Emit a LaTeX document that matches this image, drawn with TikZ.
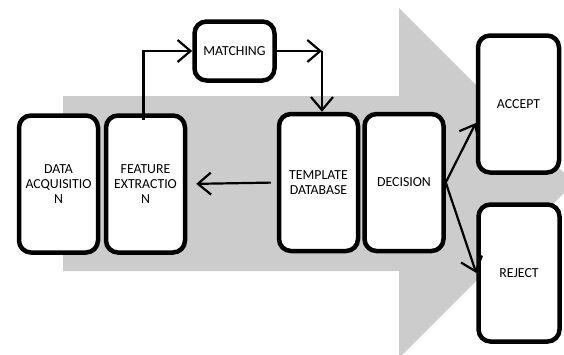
\documentclass[tikz,border=0pt]{standalone}
\usepackage{fontspec}
\setmainfont{Carlito}
\usetikzlibrary{arrows.meta,calc}
\definecolor{arrowgray}{RGB}{204,204,204}
\begin{document}
\begin{tikzpicture}[x=1pt, y=-1pt, >={Straight Barb[length=13pt,width=22pt]},
        stage/.style={draw, line width=4.5pt, rounded corners=12pt, fill=white, align=center, inner sep=0pt,
                      minimum width=79pt, minimum height=137pt, font=\fontsize{13.8}{14.7}\selectfont},
        link/.style={->, line width=2.2pt}]
                \useasboundingbox (0,0) rectangle (564,354);
                \fill[arrowgray] (63,96) -- (399,96) -- (399,8) -- (574,183) -- (399,358) -- (399,271) -- (63,271) -- cycle;
                \node[stage] (data) at (58.5,184) {DATA\\ACQUISITIO\\N};
                \node[stage] (feature) at (145.5,184) {FEATURE\\EXTRACTIO\\N};
                \node[stage, minimum height=59pt, minimum width=80pt] (matching) at (234.5,51) {MATCHING};
                \node[stage] (template) at (318.5,182.5) {TEMPLATE\\DATABASE};
                \node[stage] (decision) at (404,182.5) {DECISION};
                \node[stage, minimum width=81pt] (accept) at (518.5,104) {ACCEPT};
                \node[stage, minimum width=81pt] (reject) at (519,273) {REJECT};
                \coordinate (bend) at (322,51);
                \draw[link] ([xshift=-2pt,yshift=-7pt]feature.north) |- (matching.west);
                \draw[link] (matching.east) -- (bend);
                \draw[link] (bend) -- (bend |- template.north);
                \draw[link, shorten <=6pt, shorten >=9pt] (template.west) -- (feature.east);
                \draw[link] (decision.east) -- ($(accept.west)+(0,19)$);
                \draw[link] (decision.east) -- (reject.west);
\end{tikzpicture}
\end{document}
